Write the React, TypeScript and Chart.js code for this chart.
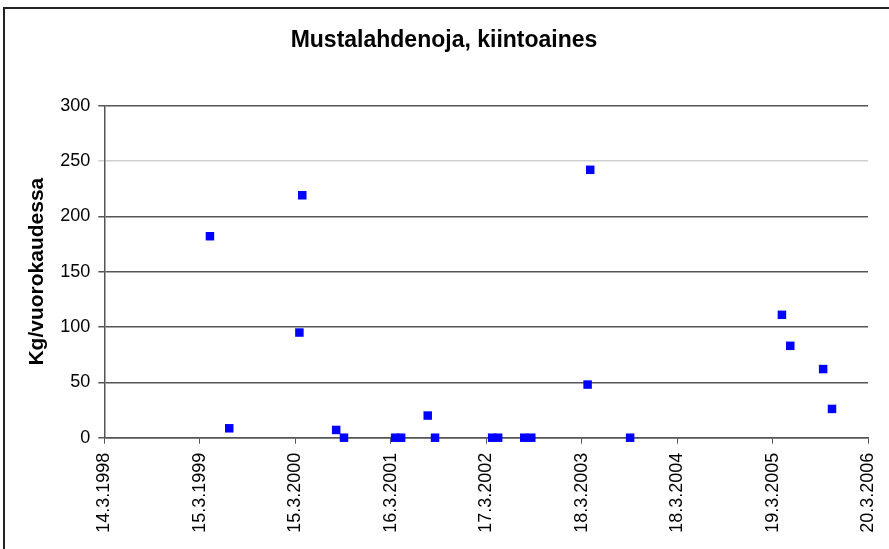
import React, { useEffect, useRef } from "react";
import { Chart, registerables } from "chart.js";

Chart.register(...registerables);

const chartTitle = "Mustalahdenoja, kiintoaines";
const yAxisTitle = "Kg/vuorokaudessa";

const tickLabels = [
  "14.3.1998",
  "15.3.1999",
  "15.3.2000",
  "16.3.2001",
  "17.3.2002",
  "18.3.2003",
  "18.3.2004",
  "19.3.2005",
  "20.3.2006",
];

const sampleDates = [
  "23.4.1999",
  "6.7.1999",
  "31.3.2000",
  "11.4.2000",
  "19.8.2000",
  "18.9.2000",
  "2.4.2001",
  "25.4.2001",
  "5.8.2001",
  "2.9.2001",
  "9.4.2002",
  "2.5.2002",
  "10.8.2002",
  "6.9.2002",
  "10.4.2003",
  "20.4.2003",
  "20.9.2003",
  "24.4.2005",
  "26.5.2005",
  "29.9.2005",
  "2.11.2005",
];

const loadValues = [
  182, 8.5, 95, 219, 7, 0, 0, 0, 20, 0, 0, 0, 0, 0, 48, 242, 0, 111, 83, 62, 26,
];

const yTicks = [0, 50, 100, 150, 200, 250, 300];

function toDay(s: string): number {
  const [d, m, y] = s.split(".").map(Number);
  return Date.UTC(y, m - 1, d) / 86400000;
}

const framePlugin = {
  id: "frame",
  afterDraw(chart: any) {
    const ctx = chart.ctx;
    ctx.save();
    ctx.strokeStyle = "#222";
    ctx.lineWidth = 2;
    ctx.beginPath();
    ctx.moveTo(4, chart.height);
    ctx.lineTo(4, 8);
    ctx.lineTo(chart.width, 8);
    ctx.stroke();
    ctx.restore();
  },
};

export default function App() {
  const canvasRef = useRef<HTMLCanvasElement | null>(null);

  useEffect(() => {
    if (!canvasRef.current) return;
    const points = sampleDates.map((d, i) => ({ x: toDay(d), y: loadValues[i] }));
    const tickValues = tickLabels.map(toDay);

    const chart = new Chart(canvasRef.current, {
      type: "scatter",
      data: {
        datasets: [
          {
            label: chartTitle,
            data: points,
            backgroundColor: "#0000ff",
            borderColor: "#0000ff",
            borderWidth: 0,
            pointStyle: "rect",
            pointRadius: 6,
            pointHoverRadius: 6,
            clip: false as any,
          },
        ],
      },
      options: {
        responsive: false,
        animation: false,
        devicePixelRatio: 1,
        layout: { padding: { left: 20, right: 21, top: 10, bottom: 0 } },
        plugins: {
          legend: { display: false },
          tooltip: { enabled: false },
          title: {
            display: true,
            text: chartTitle,
            color: "#000",
            font: { family: "'Liberation Sans', Arial, sans-serif", size: 23, weight: "bold" },
            padding: { top: 17, bottom: 51 },
          },
        },
        scales: {
          x: {
            type: "linear",
            min: tickValues[0],
            max: tickValues[tickValues.length - 1],
            afterBuildTicks: (scale: any) => {
              scale.ticks = tickValues.map((v) => ({ value: v }));
            },
            afterFit: (scale: any) => {
              scale.height = 111.3;
              scale.paddingLeft = 0;
              scale.paddingRight = 0;
            },
            ticks: {
              autoSkip: false,
              minRotation: 90,
              maxRotation: 90,
              padding: 9,
              color: "#000",
              font: { family: "'Liberation Sans', Arial, sans-serif", size: 18 },
              callback: (_v: any, i: number) => tickLabels[i],
            },
            grid: {
              drawOnChartArea: false,
              drawTicks: true,
              tickLength: 6,
              color: "#555",
            },
            border: { display: true, color: "#555", width: 1.5 },
          },
          y: {
            min: 0,
            max: 300,
            afterBuildTicks: (scale: any) => {
              scale.ticks = yTicks.map((v) => ({ value: v }));
            },
            afterFit: (scale: any) => {
              scale.width = 84.3;
              scale.paddingTop = 0;
              scale.paddingBottom = 0;
            },
            ticks: {
              padding: 8,
              color: "#000",
              font: { family: "'Liberation Sans', Arial, sans-serif", size: 18 },
            },
            grid: {
              tickLength: 6,
              lineWidth: 1.5,
              color: (ctx: any) =>
                ctx.tick && ctx.tick.value === 250 ? "#d0d0d0" : "#555",
            },
            border: { display: true, color: "#555", width: 1.5 },
            title: {
              display: true,
              text: yAxisTitle,
              color: "#000",
              font: { family: "'Liberation Sans', Arial, sans-serif", size: 21, weight: "bold" },
              padding: { top: 5, bottom: 0 },
            },
          },
        },
      },
      plugins: [framePlugin],
    });

    return () => chart.destroy();
  }, []);

  return (
    <div style={{ position: "absolute", left: 0, top: 0, width: 889, height: 549, background: "#fff" }}>
      <canvas ref={canvasRef} width={889} height={549} style={{ display: "block" }} />
    </div>
  );
}
